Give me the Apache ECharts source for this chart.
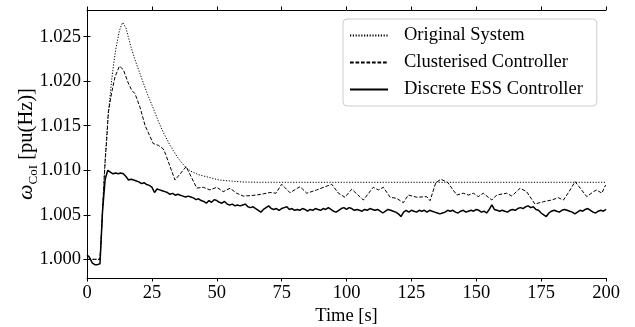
<!DOCTYPE html>
<html>
<head>
<meta charset="utf-8">
<script src="https://cdn.jsdelivr.net/npm/echarts@6/dist/echarts.min.js"></script>
<style>
html,body{margin:0;padding:0;background:#fff;}
#c{width:635px;height:327px;}
</style>
</head>
<body>
<div id="c"></div>
<script>
// ---- data ----
const seriesNames = ['Original System', 'Clusterised Controller', 'Discrete ESS Controller'];
const xTicks = [0, 25, 50, 75, 100, 125, 150, 175, 200];
const yTicks = [1.000, 1.005, 1.010, 1.015, 1.020, 1.025];

const origT = [0, 5, 5.5, 6, 6.5, 7, 7.5, 8, 8.6, 9.5, 10.3, 11.1, 12.5, 13.7, 15, 15.9, 17, 18.5, 20, 21.7, 23.5, 25.5, 27.5, 29.5, 32, 35, 37.8, 40, 43, 47, 51, 55, 60, 65, 70, 200];
const origV = [1.0000, 1.0000, 1.0025, 1.0055, 1.0085, 1.0112, 1.0135, 1.0155, 1.0175, 1.0201, 1.0220, 1.0236, 1.0257, 1.0266, 1.0260, 1.0250, 1.0238, 1.0224, 1.0212, 1.0198, 1.0184, 1.0170, 1.0155, 1.0142, 1.0128, 1.0114, 1.0104, 1.0099, 1.0095, 1.0092, 1.0089, 1.0088, 1.00868, 1.00866, 1.00865, 1.00865];

const clusT = [0, 5, 5.5, 6, 6.5, 7, 7.6, 8.2, 9.5, 10.8, 12.5, 14, 15.9, 17.2, 18.5, 20.4, 22.4, 24.3, 25.5, 27.5, 29.4, 30.3, 33.9, 38.2, 42.3, 44.8, 47.4, 50, 52.5, 55.1, 57.7, 60.2, 62.8, 65.4, 67.9, 70.5, 72.8, 75, 78.2, 82.1, 84.7, 88.5, 94.3, 96.9, 99.4, 102, 106.5, 110.3, 112.3, 114.2, 116.8, 119.3, 121.9, 123.8, 127.1, 130.9, 132.2, 134.4, 136.4, 139, 142.5, 145, 147, 148.9, 150.8, 152.7, 156, 157.9, 161.7, 163.7, 166.9, 169.4, 172.6, 175.9, 179.1, 181.6, 183.6, 185.5, 188.1, 190.6, 192.6, 195.2, 196.4, 198.4, 199.6, 200];
const clusV = [1.0000, 1.0000, 1.0025, 1.0055, 1.0085, 1.0110, 1.0134, 1.0165, 1.0187, 1.0205, 1.0217, 1.0213, 1.0198, 1.0190, 1.0186, 1.0171, 1.0150, 1.0138, 1.0130, 1.0128, 1.0124, 1.0118, 1.0089, 1.0104, 1.0080, 1.00809, 1.00779, 1.00809, 1.00760, 1.00798, 1.00742, 1.00710, 1.00715, 1.00722, 1.00735, 1.00750, 1.00742, 1.00843, 1.00748, 1.00816, 1.00742, 1.00779, 1.00843, 1.00742, 1.00697, 1.00787, 1.00666, 1.00809, 1.00779, 1.00809, 1.00697, 1.00685, 1.00636, 1.00722, 1.00697, 1.00704, 1.00658, 1.00860, 1.00899, 1.00863, 1.00722, 1.00742, 1.00722, 1.00742, 1.00704, 1.00742, 1.00666, 1.00722, 1.00742, 1.00711, 1.00798, 1.00760, 1.00621, 1.00647, 1.00666, 1.00692, 1.00666, 1.00748, 1.00872, 1.00779, 1.00704, 1.00760, 1.00779, 1.00742, 1.00823, 1.00830];

// Discrete ESS Controller, sampled every 1 s from t = 0 to 200
const essV = [
1.0005, 1.0002, 0.9996, 0.9994, 0.9994, 0.9995, 1.0055, 1.0090, 1.0100, 1.0098,
1.0096, 1.0097, 1.0096, 1.0097, 1.0096, 1.0093, 1.0089, 1.0090, 1.0089, 1.0088,
1.0087, 1.0085, 1.0086, 1.0084, 1.0083, 1.0081, 1.0075, 1.0079, 1.0078, 1.0077,
1.0076, 1.0075, 1.0073, 1.0074, 1.0072, 1.0073, 1.0072, 1.0071, 1.0070, 1.0071,
1.0070, 1.0069, 1.0067, 1.0068, 1.0066, 1.0065, 1.0063, 1.0066, 1.0064, 1.0067,
1.0066, 1.0064, 1.0063, 1.0065, 1.0062, 1.0061, 1.0062, 1.0060, 1.0061, 1.0060,
1.0061, 1.0062, 1.0059, 1.0058, 1.0059, 1.0057, 1.0055, 1.0053, 1.0056, 1.0058,
1.0060, 1.0057, 1.0056, 1.0057, 1.0055, 1.0057, 1.0058, 1.0059, 1.0056, 1.0057,
1.0055, 1.0056, 1.0055, 1.0057, 1.0056, 1.0054, 1.0056, 1.0055, 1.0057, 1.0056,
1.0055, 1.0057, 1.0056, 1.0058, 1.0056, 1.0054, 1.0053, 1.0055, 1.0057, 1.0058,
1.0056, 1.0058, 1.0057, 1.0055, 1.0056, 1.0055, 1.0054, 1.0056, 1.0055, 1.0057,
1.0056, 1.0055, 1.0056, 1.0054, 1.0052, 1.0054, 1.0056, 1.0055, 1.0054, 1.0053,
1.0051, 1.0048, 1.0053, 1.0055, 1.0053, 1.0055, 1.0054, 1.0053, 1.0055, 1.0054,
1.0055, 1.0053, 1.0055, 1.0054, 1.0053, 1.0052, 1.0051, 1.0052, 1.0053, 1.0055,
1.0054, 1.0055, 1.0053, 1.0052, 1.0054, 1.0055, 1.0053, 1.0054, 1.0055, 1.0054,
1.0056, 1.0055, 1.0053, 1.0054, 1.0052, 1.0056, 1.0061, 1.0056, 1.0055, 1.0054,
1.0055, 1.0054, 1.0053, 1.0055, 1.0056, 1.0055, 1.0057, 1.0058, 1.0057, 1.0059,
1.0060, 1.0058, 1.0059, 1.0056, 1.0055, 1.0052, 1.0050, 1.0048, 1.0052, 1.0054,
1.0055, 1.0054, 1.0053, 1.0055, 1.0056, 1.0055, 1.0054, 1.0053, 1.0051, 1.0053,
1.0055, 1.0054, 1.0056, 1.0057, 1.0055, 1.0053, 1.0052, 1.0054, 1.0055, 1.0054,
1.0056
];

// ---- chart ----
const FONT = '"Liberation Serif", "DejaVu Serif", serif';
const FS = 18.5;
const zip = (t, v) => t.map((x, i) => [x, v[i]]);
const essData = essV.map((v, i) => [i, v]);

const chart = echarts.init(document.getElementById('c'), null, {renderer: 'canvas'});

const axisLineStyle = {show: true, lineStyle: {color: '#000', width: 1}};
const yCommon = {
  type: 'value', min: 0.9979, max: 1.028, splitLine: {show: false},
  axisLine: axisLineStyle
};
const xCommon = {
  type: 'value', min: xTicks[0], max: xTicks[xTicks.length - 1], interval: 25,
  splitLine: {show: false}, axisLine: axisLineStyle
};

chart.setOption({
  animation: false,
  backgroundColor: '#fff',
  grid: {left: 87, right: 29, top: 10, bottom: 49, containLabel: false, outerBoundsMode: 'none'},
  legend: {
    orient: 'vertical', left: 343, top: 19,
    itemWidth: 38, itemHeight: 14, itemGap: 8,
    padding: [7, 14, 7, 6],
    backgroundColor: '#fff', borderColor: '#cccccc', borderWidth: 1, borderRadius: 4,
    itemStyle: {opacity: 0},
    textStyle: {fontFamily: FONT, fontSize: FS, color: '#000', padding: [0, 0, 0, 11]},
    data: seriesNames
  },
  xAxis: [
    Object.assign({}, xCommon, {
      position: 'bottom',
      name: 'Time [s]', nameLocation: 'middle', nameGap: 29, nameMoveOverlap: false,
      nameTextStyle: {fontFamily: FONT, fontSize: FS, color: '#000'},
      axisTick: {show: true, inside: false, length: 3.5, lineStyle: {color: '#000'}},
      axisLabel: {show: true, margin: 6, fontFamily: FONT, fontSize: FS, color: '#000',
        customValues: xTicks, formatter: v => String(v)}
    }),
    Object.assign({}, xCommon, {
      position: 'top',
      axisTick: {show: true, inside: false, length: 3.5, lineStyle: {color: '#000'}},
      axisLabel: {show: false}
    })
  ],
  yAxis: [
    Object.assign({}, yCommon, {
      position: 'left',
      name: '{w|ω}{s|CoI} [pu(Hz)]', nameLocation: 'middle', nameGap: 47, nameMoveOverlap: false,
      nameTextStyle: {fontFamily: FONT, fontSize: 20.5, color: '#000', lineHeight: 27,
        rich: {
          w: {fontFamily: FONT, fontSize: 22, fontStyle: 'italic', color: '#000', lineHeight: 27},
          s: {fontFamily: FONT, fontSize: 13, color: '#000', verticalAlign: 'bottom', lineHeight: 27}
        }},
      axisTick: {show: true, inside: false, length: 3.5, customValues: yTicks, lineStyle: {color: '#000'}},
      axisLabel: {show: true, margin: 6, fontFamily: FONT, fontSize: FS, color: '#000',
        customValues: yTicks, formatter: v => v.toFixed(3)}
    }),
    Object.assign({}, yCommon, {
      position: 'right',
      axisTick: {show: true, inside: false, length: 3.5, customValues: yTicks, lineStyle: {color: '#000'}},
      axisLabel: {show: false}
    })
  ],
  series: [
    {
      name: seriesNames[0], type: 'line', symbol: 'none', xAxisIndex: 0, yAxisIndex: 0,
      lineStyle: {color: '#000', width: 1, type: [1.2, 1.6]}, itemStyle: {color: '#000'},
      data: zip(origT, origV), z: 2
    },
    {
      name: seriesNames[1], type: 'line', symbol: 'none', xAxisIndex: 0, yAxisIndex: 0,
      lineStyle: {color: '#000', width: 1, type: [3.7, 1.8]}, itemStyle: {color: '#000'},
      data: zip(clusT, clusV), z: 3
    },
    {
      name: seriesNames[2], type: 'line', symbol: 'none', xAxisIndex: 0, yAxisIndex: 0,
      lineStyle: {color: '#000', width: 1.5, type: 'solid'}, itemStyle: {color: '#000'},
      data: essData, z: 4
    }
  ]
});
</script>
</body>
</html>
